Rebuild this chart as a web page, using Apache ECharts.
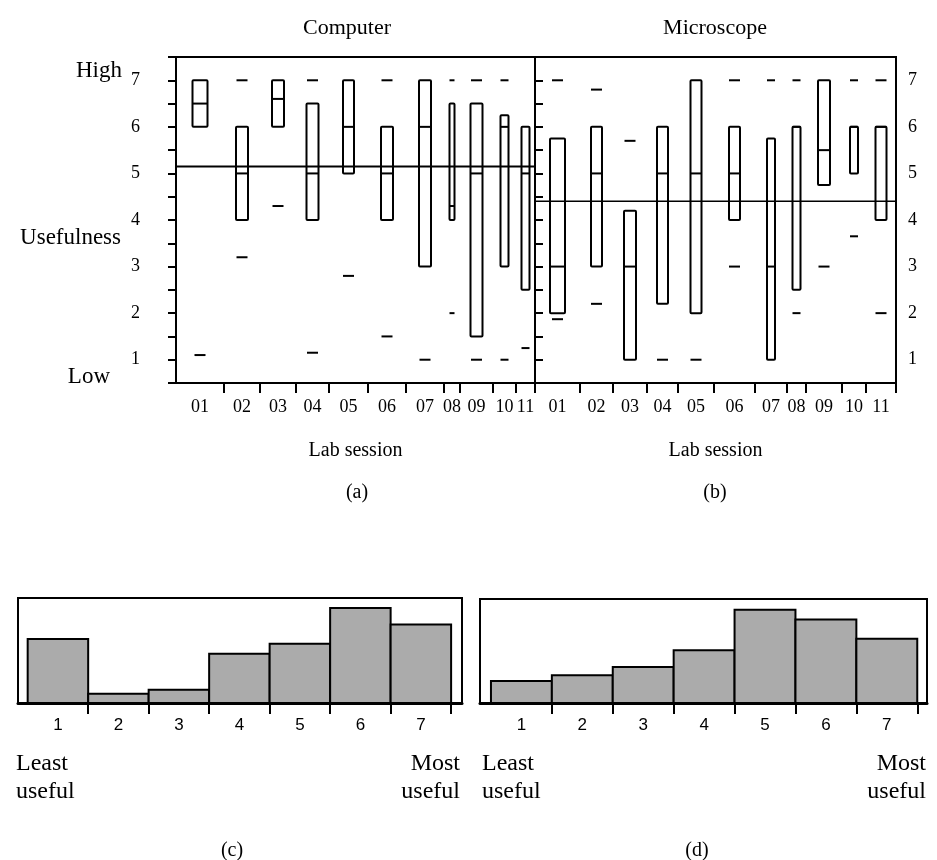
<!DOCTYPE html>
<html>
<head>
<meta charset="utf-8">
<script src="https://cdn.jsdelivr.net/npm/echarts@6/dist/echarts.min.js"></script>
<style>
  html, body { margin: 0; background: #fff; }
  #chart { width: 937px; height: 860px; }
</style>
</head>
<body>
<div id="chart"></div>
<script>
const sessions = ['01', '02', '03', '04', '05', '06', '07', '08', '09', '10', '11'];

// (a) computer labs: span of each session on the axis, box width, quartiles, extreme marks
const compSpan = [48, 36, 36, 33, 39, 38, 38, 16, 33, 23, 19];
const compBoxW = [15, 12, 12, 12, 11, 12, 12, 5, 12, 8, 8];
const compQ3 = [7, 6, 7, 6.5, 7, 6, 7, 6.5, 6.5, 6.25, 6];
const compMed = [6.5, 5, 6.6, 5, 6, 5, 6, 4.3, 5, 6, 5];
const compQ1 = [6, 4, 6, 4, 5, 4, 3, 4, 1.5, 3, 2.5];
const compHigh = [null, 7, null, 7, null, 7, null, 7, 7, 7, null];
const compLow = [1.1, 3.2, 4.3, 1.15, 2.8, 1.5, 1, 2, 1, 1, 1.25];
const compMean = 5.15;

// (b) microscope labs
const microSpan = [45, 33, 34, 31, 36, 41, 32, 19, 36, 24, 30];
const microBoxW = [15, 11, 12, 11, 11, 11, 8, 8, 12, 8, 11];
const microQ3 = [5.75, 6, 4.2, 6, 7, 6, 5.75, 6, 7, 6, 6];
const microMed = [3, 5, 3, 5, 5, 5, 3, 6, 5.5, 6, 6];
const microQ1 = [2, 3, 1, 2.2, 2, 4, 1, 2.5, 4.75, 5, 4];
const microHigh = [7, 6.8, 5.7, null, null, 7, 7, 7, null, 7, 7];
const microLow = [1.87, 2.2, null, 1, 1, 3, null, 2, 3, 3.65, 2];
const microMean = 4.4;

// (c), (d) histograms of ratings, percent of answers
const ratings = [1, 2, 3, 4, 5, 6, 7];
const compHist = [17.4, 2.5, 3.6, 13.4, 16.1, 25.8, 21.3];
const microHist = [5.8, 7.3, 9.5, 13.9, 24.6, 22.0, 16.9];

const serif = 'Liberation Serif';
const sans = 'Liberation Sans';

const bounds = spans => { let s = 0; return spans.map(w => (s += w)); };
const centers = spans => { let s = 0; return spans.map(w => { const c = s + w / 2; s += w; return c; }); };
const total = spans => spans.reduce((a, b) => a + b, 0);

const compC = centers(compSpan), microC = centers(microSpan);

const boxData = (c, bw, q1, med, q3, low, high) =>
  c.map((x, i) => [x, q1[i], med[i], q3[i], bw[i], low[i] == null ? NaN : low[i], high[i] == null ? NaN : high[i]]);

function renderBox(params, api) {
  const x = api.value(0);
  const w = api.size([api.value(4), 0])[0];
  const top = api.coord([x, api.value(3)]);
  const bot = api.coord([x, api.value(1)]);
  const med = api.coord([x, api.value(2)]);
  const line = { stroke: '#000', lineWidth: 2 };
  const children = [
    { type: 'rect', shape: { x: top[0] - w / 2, y: top[1], width: w, height: bot[1] - top[1], r: 1 },
      style: { fill: 'none', stroke: '#000', lineWidth: 2 } },
    { type: 'line', shape: { x1: med[0] - w / 2, y1: med[1], x2: med[0] + w / 2, y2: med[1] }, style: line }
  ];
  const dash = Math.min(w, 11);
  [5, 6].forEach(d => {
    const v = api.value(d);
    if (!isNaN(v)) {
      const p = api.coord([x, v]);
      children.push({ type: 'line', shape: { x1: p[0] - dash / 2, y1: p[1], x2: p[0] + dash / 2, y2: p[1] }, style: line });
    }
  });
  return { type: 'group', children };
}

function renderBar(params, api) {
  const a = api.coord([api.value(0) - 0.5, api.value(1)]);
  const b = api.coord([api.value(0) + 0.5, 0]);
  return { type: 'rect', shape: { x: a[0], y: a[1], width: b[0] - a[0], height: b[1] - a[1] },
    style: { fill: '#ababab', stroke: '#000', lineWidth: 2 } };
}

const sessionAxis = (grid, spans, c) => ({
  gridIndex: grid, type: 'value', min: 0, max: total(spans),
  axisLine: { show: true, lineStyle: { color: '#000', width: 2 } },
  axisTick: { show: true, customValues: bounds(spans), length: 10, lineStyle: { color: '#000', width: 2 } },
  axisLabel: { customValues: c, margin: 15, color: '#000', fontFamily: serif, fontSize: 18,
    formatter: v => sessions[c.findIndex(x => Math.abs(x - v) < 0.01)] },
  splitLine: { show: false },
  name: 'Lab session', nameLocation: 'middle', nameGap: 58,
  nameTextStyle: { color: '#000', fontFamily: serif, fontSize: 20 }
});

const ratingAxis = (grid, lo, hi) => ({
  gridIndex: grid, type: 'value', min: lo, max: hi,
  axisLine: { show: true, lineStyle: { color: '#000', width: 3 } },
  axisTick: { show: true, customValues: [1.5, 2.5, 3.5, 4.5, 5.5, 6.5, 7.5], length: 11, lineStyle: { color: '#000', width: 2 } },
  axisLabel: { customValues: ratings, margin: 14, color: '#000', fontFamily: sans, fontSize: 17 },
  splitLine: { show: false }
});

const usefulAxis = (grid, pos, margin) => ({
  gridIndex: grid, type: 'value', position: pos, min: 0.5, max: 7.5, interval: 0.5,
  axisLine: { show: true, lineStyle: { color: '#000', width: 2 } },
  axisTick: { show: true, length: 8, lineStyle: { color: '#000', width: 2 } },
  axisLabel: { margin, color: '#000', fontFamily: serif, fontSize: 18,
    formatter: v => (Number.isInteger(v) ? String(v) : '') },
  splitLine: { show: false }
});

const text = (x, y, t, size, align) => ({
  type: 'text', x, y,
  style: { text: t, fill: '#000', font: `${size}px "${serif}"`, textAlign: align || 'center', textVerticalAlign: 'middle' }
});

const chart = echarts.init(document.getElementById('chart'));
chart.setOption({
  animation: false,
  backgroundColor: '#fff',
  title: [
    { text: 'Computer', left: 342, top: 12, textAlign: 'center', textStyle: { fontFamily: serif, fontSize: 22, fontWeight: 'normal', color: '#000' } },
    { text: 'Microscope', left: 710, top: 12, textAlign: 'center', textStyle: { fontFamily: serif, fontSize: 22, fontWeight: 'normal', color: '#000' } }
  ],
  grid: [
    { left: 176, top: 57, width: 359, height: 326, show: true, borderColor: '#000', borderWidth: 2 },
    { left: 535, top: 57, width: 361, height: 326, show: true, borderColor: '#000', borderWidth: 2 },
    { left: 18, top: 598, width: 444, height: 105, show: true, borderColor: '#000', borderWidth: 2 },
    { left: 480, top: 599, width: 447, height: 104, show: true, borderColor: '#000', borderWidth: 2 }
  ],
  xAxis: [
    sessionAxis(0, compSpan, compC),
    sessionAxis(1, microSpan, microC),
    ratingAxis(2, 0.34, 7.68),
    ratingAxis(3, 0.32, 7.66)
  ],
  yAxis: [
    usefulAxis(0, 'left', 36),
    usefulAxis(1, 'right', 12),
    { gridIndex: 2, type: 'value', min: 0, max: 28.5, show: false },
    { gridIndex: 3, type: 'value', min: 0, max: 27.4, show: false }
  ],
  series: [
    { type: 'line', xAxisIndex: 0, yAxisIndex: 0, symbol: 'none', silent: true,
      data: [[0, compMean], [total(compSpan), compMean]], lineStyle: { color: '#000', width: 2 } },
    { type: 'line', xAxisIndex: 1, yAxisIndex: 1, symbol: 'none', silent: true,
      data: [[0, microMean], [total(microSpan), microMean]], lineStyle: { color: '#000', width: 1.5 } },
    { type: 'custom', xAxisIndex: 0, yAxisIndex: 0, renderItem: renderBox,
      data: boxData(compC, compBoxW, compQ1, compMed, compQ3, compLow, compHigh) },
    { type: 'custom', xAxisIndex: 1, yAxisIndex: 1, renderItem: renderBox,
      data: boxData(microC, microBoxW, microQ1, microMed, microQ3, microLow, microHigh) },
    { type: 'custom', xAxisIndex: 2, yAxisIndex: 2, renderItem: renderBar,
      data: ratings.map((r, i) => [r, compHist[i]]) },
    { type: 'custom', xAxisIndex: 3, yAxisIndex: 3, renderItem: renderBar,
      data: ratings.map((r, i) => [r, microHist[i]]) }
  ],
  graphic: [
    text(122, 71, 'High', 23, 'right'),
    text(121, 238, 'Usefulness', 23, 'right'),
    text(110, 377, 'Low', 23, 'right'),
    text(357, 493, '(a)', 20),
    text(715, 493, '(b)', 20),
    text(16, 764, 'Least', 24, 'left'),
    text(16, 792, 'useful', 24, 'left'),
    text(460, 764, 'Most', 24, 'right'),
    text(460, 792, 'useful', 24, 'right'),
    text(482, 764, 'Least', 24, 'left'),
    text(482, 792, 'useful', 24, 'left'),
    text(926, 764, 'Most', 24, 'right'),
    text(926, 792, 'useful', 24, 'right'),
    text(232, 851, '(c)', 20),
    text(697, 851, '(d)', 20)
  ]
});
</script>
</body>
</html>
